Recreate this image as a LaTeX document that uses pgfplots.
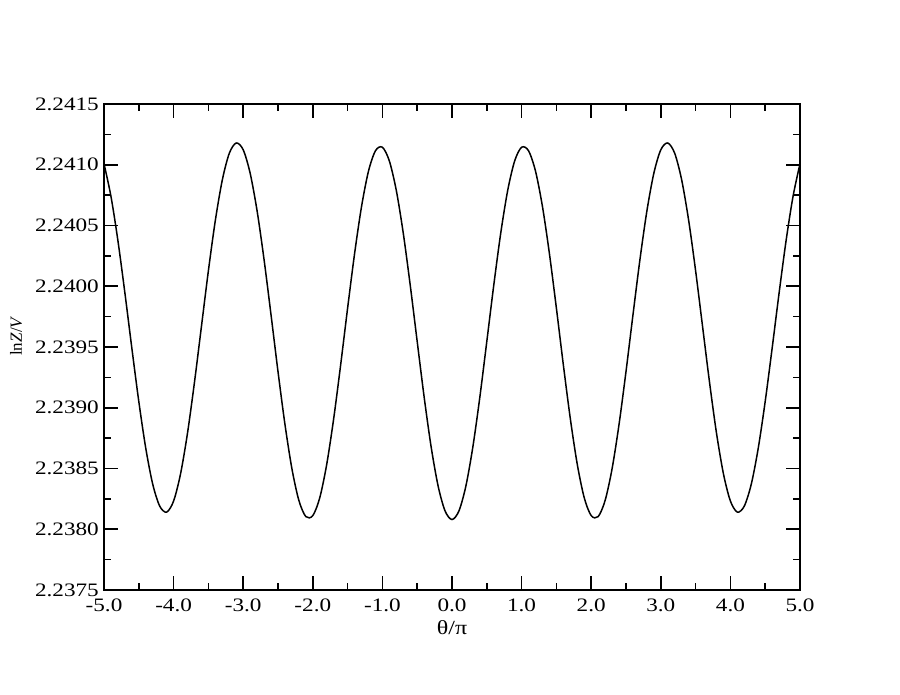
\documentclass[border=0pt]{standalone}
\usepackage{fontspec}
\setmainfont{Liberation Serif}
\newfontfamily\stretchfont[FakeStretch=1.22]{Liberation Serif}
\newfontfamily\labfont[FakeStretch=1.2]{Liberation Serif}
\usepackage{pgfplots}
\pgfplotsset{compat=1.18}
\begin{document}
\begin{tikzpicture}
\begin{axis}[
  scale only axis,
  width=696pt, height=486pt,
  xmin=-5, xmax=5, ymin=2.2375, ymax=2.2415,
  xtick={-5,-4,...,5},
  ytick={2.2375,2.238,2.2385,2.239,2.2395,2.24,2.2405,2.241,2.2415},
  minor x tick num=1, minor y tick num=1,
  tick align=inside,
  major tick length=14pt, minor tick length=7pt,
  axis line style={line width=1.6pt},
  every tick/.style={line width=1.6pt, black},
  /pgf/number format/assume math mode=true,
  xticklabel style={/pgf/number format/.cd, fixed, fixed zerofill, precision=1, /tikz/.cd, font=\fontsize{19}{21}\stretchfont, inner sep=0pt, anchor=north, yshift=-9pt},
  yticklabel style={/pgf/number format/.cd, fixed, fixed zerofill, precision=4, /tikz/.cd, font=\fontsize{19}{21}\stretchfont, inner sep=0pt, anchor=east, xshift=-5pt},
  scaled y ticks=false,
  xlabel={θ/π},
  xlabel style={at={(axis description cs:0.5,-0.078)}, anchor=center, font=\fontsize{20}{22}\labfont},
  ylabel={ln\textit{Z}/\textit{V}},
  ylabel style={at={(axis description cs:-0.1264,0.5226)}, anchor=center, font=\fontsize{17}{19}\selectfont},
]
\addplot[black, line width=1.5pt, smooth] coordinates {
(-5.0,2.241008) (-4.9,2.240740) (-4.8,2.240375) (-4.7,2.239946) (-4.6,2.239491)
(-4.5,2.239052) (-4.4,2.238667) (-4.3,2.238371) (-4.2,2.238191) (-4.1,2.238141)
(-4.0,2.238232) (-3.9,2.238456) (-3.8,2.238792) (-3.7,2.239210) (-3.6,2.239669)
(-3.5,2.240128) (-3.4,2.240543) (-3.3,2.240875) (-3.2,2.241094) (-3.1,2.241179)
(-3.0,2.241123) (-2.9,2.240930) (-2.8,2.240619) (-2.7,2.240218) (-2.6,2.239764)
(-2.5,2.239298) (-2.4,2.238863) (-2.3,2.238498) (-2.2,2.238237) (-2.1,2.238104)
(-2.0,2.238112) (-1.9,2.238259) (-1.8,2.238534) (-1.7,2.238910)
(-1.6,2.239352) (-1.5,2.239819) (-1.4,2.240267) (-1.3,2.240655) (-1.2,2.240947)
(-1.1,2.241115) (-1.0,2.241144) (-0.9,2.241031) (-0.8,2.240788) (-0.7,2.240436)
(-0.6,2.240008) (-0.5,2.239545) (-0.4,2.239087) (-0.3,2.238679) (-0.2,2.238357)
(-0.1,2.238151) (0.0,2.238080)
(0.1,2.238151) (0.2,2.238357) (0.3,2.238679) (0.4,2.239087) (0.5,2.239545)
(0.6,2.240008) (0.7,2.240436) (0.8,2.240788) (0.9,2.241031) (1.0,2.241144)
(1.1,2.241115) (1.2,2.240947) (1.3,2.240655) (1.4,2.240267) (1.5,2.239819)
(1.6,2.239352) (1.7,2.238910) (1.8,2.238534) (1.9,2.238259) (2.0,2.238112)
(2.1,2.238104) (2.2,2.238237) (2.3,2.238498) (2.4,2.238863)
(2.5,2.239298) (2.6,2.239764) (2.7,2.240218) (2.8,2.240619) (2.9,2.240930)
(3.0,2.241123) (3.1,2.241179) (3.2,2.241094) (3.3,2.240875) (3.4,2.240543)
(3.5,2.240128) (3.6,2.239669) (3.7,2.239210) (3.8,2.238792) (3.9,2.238456)
(4.0,2.238232) (4.1,2.238141) (4.2,2.238191) (4.3,2.238371) (4.4,2.238667)
(4.5,2.239052) (4.6,2.239491) (4.7,2.239946) (4.8,2.240375) (4.9,2.240740)
(5.0,2.241008)
};
\end{axis}
\pgfresetboundingbox
\path ([shift={(-104pt,-105pt)}]current axis.south west) rectangle ([shift={(100pt,104pt)}]current axis.north east);
\end{tikzpicture}
\end{document}
